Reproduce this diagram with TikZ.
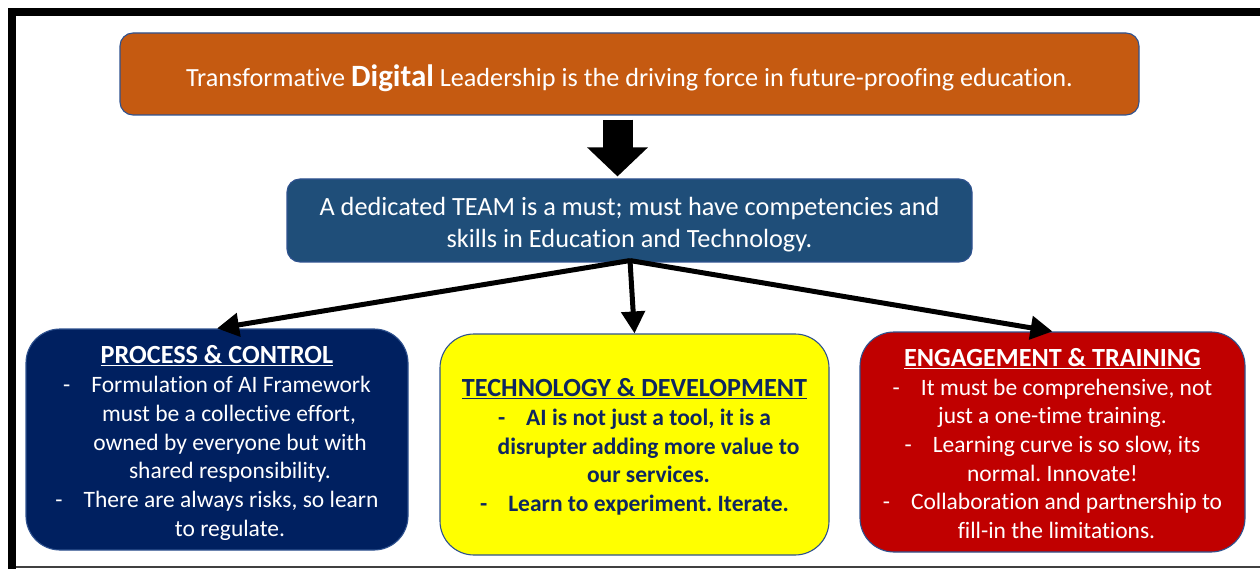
\documentclass[tikz,border=0pt]{standalone}
\usepackage{fontspec}
\setmainfont{Carlito}[Ligatures=NoCommon]
\usetikzlibrary{arrows.meta,calc}
\definecolor{rust}{HTML}{C55A11}
\definecolor{steel}{HTML}{1F4E79}
\definecolor{navy}{HTML}{002060}
\definecolor{brightyellow}{HTML}{FFFF00}
\definecolor{darkred}{HTML}{C00000}
\definecolor{edgeblue}{HTML}{2F528F}
\definecolor{textnavy}{HTML}{0E2660}
\newcommand{\bul}{-\hspace{21pt}}
\newcommand{\ttl}[1]{{\fontsize{26.2}{28.7}\selectfont\bfseries\underline{#1}}}
\frenchspacing
\begin{document}
\begin{tikzpicture}[x=1pt,y=-1pt,
  box/.style={draw=edgeblue, line width=1.1pt, inner sep=0pt},
  card/.style={box, rounded corners=34pt, minimum height=221pt},
  cardtext/.style={align=center, inner sep=0pt, font=\fontsize{23.5}{28.7}\selectfont},
  link/.style={line width=5pt, black, -{Triangle[length=22pt, width=23pt]}}]
\useasboundingbox (0,0) rectangle (1260,569);
\fill[white] (0,0) rectangle (1260,569);
% page frame
\fill[black] (8,8) rectangle (1260,16);
\fill[black] (8,8) rectangle (16,569);
\draw[black!75, line width=1.2pt] (16,567) -- (1260,567);

% headline
\node[box, fill=rust, rounded corners=13pt,
  minimum width=1019pt, minimum height=82pt] (head) at (629.5,74) {};
\node[text=white, inner sep=0pt] (headtxt) at ($(head.center)+(0,4)$)
  {\fontsize{26.2}{30}\selectfont Transformative \textbf{\fontsize{31}{30}\selectfont Digital} Leadership is the driving force in future-proofing education.};

% team
\node[box, fill=steel, rounded corners=13pt,
  minimum width=685pt, minimum height=83pt] (team) at (629.5,220.5) {};
\node[text=white, align=center, inner sep=0pt,
  font=\fontsize{26.3}{32}\selectfont] (teamtxt) at ($(team.center)+(0,4)$)
  {A dedicated TEAM is a must; must have competencies and\\skills in Education and Technology.};

% three pillars
\node[card, fill=navy, minimum width=382pt] (proc) at (217,439.5) {};
\node[cardtext, text=white] (proctxt) at ($(proc.center)+(0,3.5)$)
  {\ttl{PROCESS \& CONTROL}\\
   \bul Formulation of AI Framework\\
   \hspace*{24pt}must be a collective effort,\\
   \hspace*{26pt}owned by everyone but with\\
   \hspace*{26pt}shared responsibility.\\
   \bul There are always risks, so learn\\
   \hspace*{26pt}to regulate.};

\node[card, fill=brightyellow, minimum width=389pt] (tech) at (634.5,444.5) {};
\node[cardtext, text=textnavy, font=\fontsize{23.5}{28.7}\selectfont\bfseries]
  (techtxt) at ($(tech.center)+(0,2.5)$)
  {\ttl{TECHNOLOGY \& DEVELOPMENT}\\
   \bul AI is not just a tool, it is a\\
   \hspace*{28pt}disrupter adding more value to\\
   \hspace*{28pt}our services.\\
   \bul Learn to experiment. Iterate.};

\node[card, fill=darkred, minimum width=385pt, minimum height=220pt] (engage) at (1052.5,442) {};
\node[cardtext, text=white] (engagetxt) at ($(engage.center)+(0,1.5)$)
  {\ttl{ENGAGEMENT \& TRAINING}\\
   \bul It must be comprehensive, not\\
   just a one-time training.\\
   \bul Learning curve is so slow, its\\
   normal. Innovate!\\
   \bul Collaboration and partnership to\\
   \hspace*{8pt}fill-in the limitations.};

% block arrow from headline to team
\coordinate (bt) at ($(head.south)+(-12,4)$);
\coordinate (bb) at ($(team.north)+(-12,-2)$);
\draw[line width=30pt, black, -{Triangle[length=29pt, width=59pt]}] (bt) -- (bb);

% team to pillars
\coordinate (fork) at ($(team.south)+(0.5,-2)$);
\draw[link] (fork) -- (proc.north);
\draw[link] (fork) -- (tech.north);
\draw[link] (fork) -- (engage.north);
\end{tikzpicture}
\end{document}
